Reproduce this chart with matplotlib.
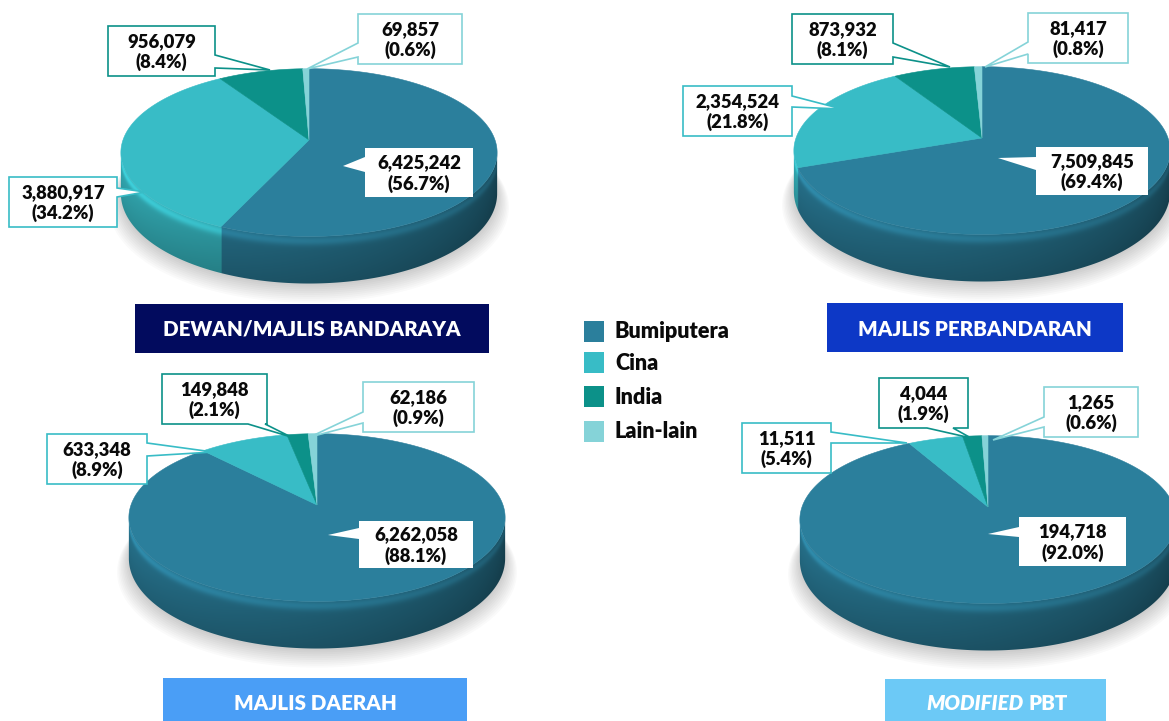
import numpy as np
import matplotlib
matplotlib.use("Agg")
import matplotlib.pyplot as plt
from matplotlib.patches import Polygon, Rectangle
from matplotlib.colors import to_rgb

plt.rcParams['font.family'] = ['Lato', 'DejaVu Sans']
WEIGHT = 800

# population by ethnic group, per type of local authority
groups = ["Bumiputera", "Cina", "India", "Lain-lain"]
bandaraya = [6425242, 3880917, 956079, 69857]
perbandaran = [7509845, 2354524, 873932, 81417]
daerah = [6262058, 633348, 149848, 62186]
modified_pbt = [194718, 11511, 4044, 1265]

group_colors = ["#2B7F9C", "#38BCC6", "#0C9189", "#85D3D8"]

# disc shape in pixels: radius, half height, perspective, thickness
R, RY, K, DEPTH = 186, 82, 0.15, 40
# angles where the rim is widest (silhouette of the disc)
TH_R = np.degrees(np.arccos(-K))
TH_L = 360 - TH_R


def proj(cx, cy, theta):
    th = np.radians(theta)
    u, v = np.sin(th), -np.cos(th)
    d = 1.0 / (1.0 - K * v)
    return cx + R * u * d, cy + RY * v * d, DEPTH * d


def rim_shade(theta, t):
    # darker towards the right, rounded highlight along the upper edge
    a = np.clip((theta - 90) / 180.0, 0, 1)
    h = 0.47 + 0.47 * a ** 0.75
    v = 0.84 + 0.16 * (1 - t) + 0.26 * np.exp(-((t - 0.08) / 0.1) ** 2)
    return h * v


def pie3d(ax, cx, cy, values, colors):
    values = np.asarray(values, float)
    edges = np.concatenate([[0], np.cumsum(values) / values.sum() * 360])

    # soft shadow under the disc
    th = np.linspace(0, 360, 181)
    bx, by, bd = proj(cx, cy, th)
    by = by + bd
    for i in range(10):
        s = 1.0 + 0.007 * i
        ax.fill(cx + (bx - cx) * s, cy + (by - cy) * s + 2 + 0.9 * i,
                color="#000000", alpha=0.02, lw=0, zorder=1)

    # rim: shaded raster clipped to the outline of the visible side
    ts = np.linspace(TH_R, TH_L, 400)
    tx, ty, td = proj(cx, cy, ts)
    outline = np.vstack([np.column_stack([tx, ty]),
                         np.column_stack([tx[::-1], (ty + td)[::-1]])])
    x0, x1 = tx.min() - 2, tx.max() + 2
    y0, y1 = ty.min() - 2, (ty + td).max() + 2
    gx = np.arange(x0, x1, 0.5)
    gy = np.arange(y0, y1, 0.5)
    theta = np.interp(gx, tx[::-1], ts[::-1])
    top = np.interp(gx, tx[::-1], ty[::-1])
    dep = np.interp(gx, tx[::-1], td[::-1])
    X_t, Y = np.meshgrid(theta, gy)
    T = np.clip((Y - top[None, :]) / dep[None, :], 0, 1)
    idx = np.clip(np.searchsorted(edges, X_t, side="right") - 1, 0, len(values) - 1)
    base = np.array([to_rgb(c) for c in colors])[idx]
    img = np.clip(base * rim_shade(X_t, T)[..., None], 0, 1)
    clip = Polygon(outline, closed=True, fc="none", ec="none")
    ax.add_patch(clip)
    im = ax.imshow(img, extent=(x0, x1, y1, y0), origin="upper",
                   aspect="auto", interpolation="bilinear", zorder=2)
    im.set_clip_path(clip)

    # top face, one wedge per group
    for i in range(len(values)):
        n = max(2, int(np.ceil(edges[i + 1] - edges[i])) + 1)
        ts = np.linspace(edges[i], edges[i + 1], n)
        xs, ys, _ = proj(cx, cy, ts)
        pts = [(cx, cy)] + list(zip(xs, ys))
        ax.add_patch(Polygon(pts, closed=True, fc=colors[i], ec=colors[i],
                             lw=0.4, zorder=3))


def callout(ax, box, side, a, b, tip, text, edge):
    x0, y0, x1, y1 = box
    pts = [(x0, y0)]
    if side == "top":
        pts += [(a, y0), tip, (b, y0)]
    pts.append((x1, y0))
    if side == "right":
        pts += [(x1, a), tip, (x1, b)]
    pts.append((x1, y1))
    if side == "bottom":
        pts += [(b, y1), tip, (a, y1)]
    pts.append((x0, y1))
    if side == "left":
        pts += [(x0, b), tip, (x0, a)]
    ax.add_patch(Polygon(pts, closed=True, fc="white", ec=edge, lw=1.2,
                         joinstyle="miter", zorder=6))
    ax.text((x0 + x1) / 2, (y0 + y1) / 2 + 1, text, ha="center", va="center",
            ma="center", fontsize=13.3, fontweight=WEIGHT, color="#0a0a0a",
            linespacing=1.22, zorder=7)


fig = plt.figure(figsize=(11.69, 7.21), dpi=100)
ax = fig.add_axes([0, 0, 1, 1])
ax.axis("off")

panels = [
    dict(values=bandaraya, center=(309, 140),
         title="DEWAN/MAJLIS BANDARAYA", tbox=(135, 304, 489, 353), tcol="#020B5E",
         boxes=[((365, 148, 473, 197), "left", 157, 172, (343, 166)),
                ((9, 177, 117, 227), "right", 188, 197, (145, 192)),
                ((108, 26, 215, 76), "right", 55, 68, (270, 70)),
                ((358, 14, 462, 64), "left", 43, 57, (307, 69))]),
    dict(values=perbandaran, center=(982, 138),
         title="MAJLIS PERBANDARAN", tbox=(827, 303, 1123, 352), tcol="#0D38C6",
         boxes=[((1036, 147, 1148, 195), "left", 157, 170, (998, 158)),
                ((683, 86, 792, 136), "right", 96, 107, (842, 109)),
                ((792, 14, 893, 64), "right", 43, 57, (950, 67)),
                ((1028, 13, 1128, 63), "left", 42, 54, (985, 67))]),
    dict(values=daerah, center=(317, 505),
         title="MAJLIS DAERAH", tbox=(163, 678, 467, 730), tcol="#4A9EF6",
         boxes=[((359, 521, 473, 568), "left", 528, 539, (328, 535)),
                ((47, 434, 147, 484), "right", 443, 456, (213, 452)),
                ((162, 374, 267, 424), "bottom", 248, 265, (291, 437)),
                ((363, 382, 474, 432), "left", 412, 423, (310, 437))]),
    dict(values=modified_pbt, center=(988, 507),
         title=None, tbox=(885, 679, 1106, 730), tcol="#6CC9F6",
         boxes=[((1019, 517, 1126, 566), "left", 527, 537, (988, 534)),
                ((742, 423, 831, 473), "right", 432, 443, (907, 443)),
                ((879, 378, 968, 428), "bottom", 927, 953, (971, 438)),
                ((1044, 387, 1138, 437), "left", 417, 427, (993, 440))]),
]

for p in panels:
    vals = p["values"]
    total = sum(vals)
    pie3d(ax, *p["center"], vals, group_colors)
    for i, (box, side, a, b, tip) in enumerate(p["boxes"]):
        label = f"{vals[i]:,}\n({vals[i] / total * 100:.1f}%)"
        edge = "none" if i == 0 else group_colors[i]
        callout(ax, box, side, a, b, tip, label, edge)

    x0, y0, x1, y1 = p["tbox"]
    ax.add_patch(Rectangle((x0, y0), x1 - x0, y1 - y0, fc=p["tcol"], ec="none", zorder=5))
    ty = 329 if y0 < 400 else 703
    if p["title"]:
        ax.text((x0 + x1) / 2, ty, p["title"], ha="center", va="center",
                color="white", fontsize=14.8, fontweight=WEIGHT, zorder=6)
    else:
        ax.text(1024, ty, "MODIFIED", ha="right", va="center", color="white",
                fontsize=14.8, fontweight=WEIGHT, fontstyle="italic", zorder=6)
        ax.text(1029, ty, "PBT", ha="left", va="center", color="white",
                fontsize=14.8, fontweight=WEIGHT, zorder=6)

# legend
for i, (g, c) in enumerate(zip(groups, group_colors)):
    yc = [331, 362, 396, 431][i]
    ax.add_patch(Rectangle((584, yc - 10), 20, 21, fc=c, ec="none", zorder=5))
    ax.text(615, yc + 1, g, ha="left", va="center", fontsize=15.6,
            fontweight=WEIGHT, color="#0a0a0a", zorder=6)

ax.set_xlim(0, 1169)
ax.set_ylim(721, 0)
fig.savefig("out.png", dpi=100)
